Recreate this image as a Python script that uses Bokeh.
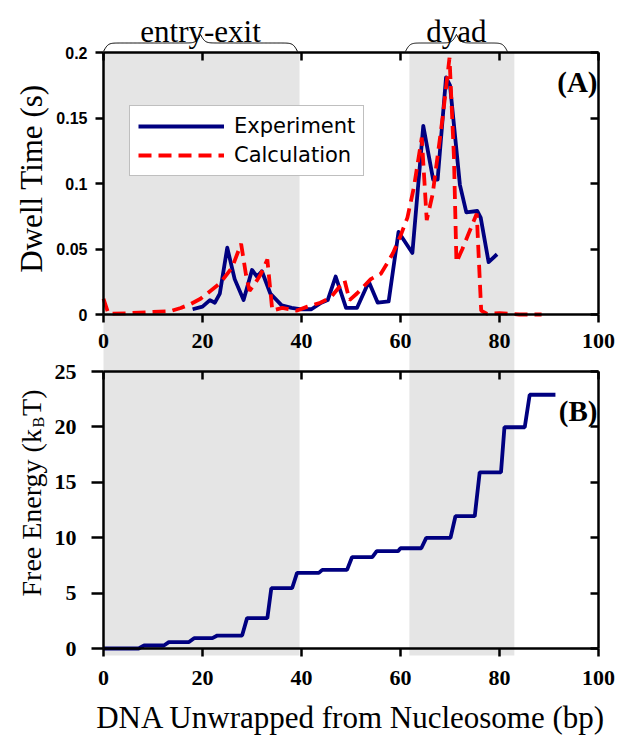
import numpy as np
from bokeh.plotting import figure
from bokeh.models import Range1d, LinearAxis, FixedTicker, Legend, LegendItem, Label
from bokeh.core.properties import value
from bokeh.embed import file_html
from bokeh.resources import INLINE

# ---------------- data ----------------
exp_bp = [18, 20, 21.5, 22.5, 23.5, 25, 26.5, 28.3, 30, 31, 32, 33.7, 36, 38, 40,
          42, 44, 45.3, 46.9, 49, 51.2, 53.6, 55.4, 57.6, 59.6, 62.4, 64.6, 66.6,
          67.5, 69.2, 70.0, 72.0, 73.3, 75.5, 76.2, 77.8, 79.5]
exp_dwell = [0.004, 0.006, 0.011, 0.009, 0.016, 0.051, 0.027, 0.011, 0.034, 0.029,
             0.033, 0.016, 0.007, 0.005, 0.004, 0.004, 0.009, 0.011, 0.029, 0.005,
             0.005, 0.025, 0.009, 0.010, 0.063, 0.047, 0.144, 0.103, 0.103, 0.181,
             0.175, 0.099, 0.078, 0.079, 0.074, 0.040, 0.046]

calc_bp = [0, 1, 5, 10, 13.5, 15.6, 17.6, 19.6, 21.6, 23.6, 26.0, 27.8, 28.8, 29.5,
           30.5, 31.8, 33.1, 34.1, 36.1, 39.1, 41.2, 43.8, 45.9, 48.7, 49.7, 51.2,
           54.0, 56.0, 57.3, 58.5, 60.0, 61.4, 62.7, 64.3, 65.3, 66.5, 68.5, 69.9,
           70.8, 71.3, 72.5, 74.0, 75.4, 76.3, 77.5, 80, 84, 88.5]
calc_dwell = [0.012, 0.0005, 0.001, 0.002, 0.0025, 0.005, 0.008, 0.012, 0.018, 0.024,
              0.036, 0.054, 0.030, 0.018, 0.023, 0.031, 0.042, 0.003, 0.005, 0.003,
              0.006, 0.009, 0.013, 0.026, 0.011, 0.016, 0.027, 0.031, 0.039, 0.047,
              0.060, 0.074, 0.097, 0.135, 0.072, 0.092, 0.150, 0.196, 0.120, 0.040,
              0.050, 0.064, 0.077, 0.003, 0.0005, 0.001, 0.0, 0.0]

fe_bp = [0, 7.1, 8.2, 12.2, 13.2, 17.2, 18.3, 22.0, 23.0, 28.0, 29.0, 33.1, 33.9,
         38.1, 39.1, 43.5, 44.2, 49.2, 50.2, 54.3, 55.2, 59.5, 60.0, 64.2, 65.2,
         70.1, 71.1, 75.0, 76.0, 80.3, 81.0, 85.1, 86.1, 91.3]
fe_kT = [0, 0, 0.27, 0.27, 0.57, 0.57, 0.93, 0.93, 1.17, 1.17, 2.74, 2.74, 5.44,
         5.44, 6.83, 6.83, 7.1, 7.1, 8.24, 8.24, 8.78, 8.78, 9.05, 9.05, 9.99, 9.99,
         11.94, 11.94, 15.9, 15.9, 19.97, 19.97, 22.9, 22.9]

region_names = ["entry-exit", "dyad"]
shade_start = [0.0, 61.8]
shade_end = [39.6, 83.0]
brace_start = [0.0, 61.0]
brace_end = [39.2, 81.6]

x_ticks = [0, 20, 40, 60, 80, 100]
x_tick_labels = ["0", "20", "40", "60", "80", "100"]
a_ticks = [0, 0.05, 0.1, 0.15, 0.2]
a_tick_labels = ["0", "0.05", "0.1", "0.15", "0.2"]
b_ticks = [0, 5, 10, 15, 20, 25]
b_tick_labels = ["0", "5", "10", "15", "20", "25"]

# ---------------- layout ----------------
W, H = 619, 736
L, R = 103, 598          # px columns of bp = 0 and bp = 100
SB = 655                 # px row where the shading stops
A0, A1 = 314, 52         # px rows of 0 and 0.2 in panel A
B0, B1 = 648, 371        # px rows of 0 and 25 in panel B
A_MAX, B_MAX = 0.2, 25
sa = (A0 - A1) / A_MAX
sb = (B0 - B1) / B_MAX
sx = (R - L) / 100.0
# the plotting frame covers the whole canvas so nothing gets clipped
x_range = Range1d(-L / sx, 100 + (W - R) / sx)
a_range = Range1d(-(H - A0) / sa, A_MAX + A1 / sa)
b_range = Range1d(-(H - B0) / sb, B_MAX + B1 / sb)


def px_x(px):
    return (px - L) / sx


def px_a(py):
    return (A0 - py) / sa


def px_b(py):
    return (B0 - py) / sb


p = figure(width=W, height=H, x_range=x_range, y_range=b_range,
           x_axis_location=None, y_axis_location=None,
           min_border=0, min_border_left=0, min_border_right=0, min_border_top=0,
           min_border_bottom=0, output_backend="svg", toolbar_location=None,
           outline_line_color=None, background_fill_color="white",
           border_fill_color="white")
p.extra_y_ranges = {"A": a_range}
p.grid.visible = False

SERIF = "Liberation Serif"
BLUE = "#000080"
RED = "#ff0000"
LW = 3.8

# shaded regions (continuous through both panels)
p.quad(left=shade_start, right=shade_end, bottom=px_a(SB), top=A_MAX,
       y_range_name="A", fill_color="#e5e5e5", line_color=None, level="underlay")

# curves
r_exp = p.line(exp_bp, exp_dwell, y_range_name="A", line_color=BLUE, line_width=LW,
               line_join="round")
r_calc = p.line(calc_bp, calc_dwell, y_range_name="A", line_color=RED, line_width=LW,
                line_dash="13 7")
p.line(fe_bp, fe_kT, line_color=BLUE, line_width=LW)


# axes
def add_axis(side, loc, ticks, labels=None, rng=None, bounds=None, inward=False,
             font=SERIF, size="22px", standoff=5, tick_len=8, axis_label=None,
             label_standoff=6):
    kw = dict(fixed_location=loc, ticker=FixedTicker(ticks=ticks),
              axis_line_width=2.5, axis_line_color="black",
              major_tick_line_width=2.5, major_tick_line_color="black",
              minor_tick_line_color=None,
              major_tick_in=tick_len if inward else 0,
              major_tick_out=0 if inward else tick_len)
    if rng is not None:
        kw["y_range_name"] = rng
    kw["bounds"] = bounds if bounds is not None else (0, 100)
    ax = LinearAxis(**kw)
    if labels is None:
        ax.major_label_overrides = {t: "" for t in ticks}
    else:
        ax.major_label_overrides = dict(zip(ticks, labels))
        ax.major_label_text_font = font
        ax.major_label_text_font_style = "bold"
        ax.major_label_text_font_size = size
        ax.major_label_text_color = "black"
        ax.major_label_standoff = standoff
    if axis_label is not None:
        ax.axis_label = axis_label
        ax.axis_label_text_font = SERIF
        ax.axis_label_text_font_style = "normal"
        ax.axis_label_text_font_size = "31px"
        ax.axis_label_text_color = "black"
        ax.axis_label_standoff = label_standoff
    p.add_layout(ax, side)
    return ax


# panel A
add_axis("below", 0, x_ticks, x_tick_labels, rng="A", standoff=11)
add_axis("above", A_MAX, x_ticks, None, rng="A", inward=True)
add_axis("left", 0, a_ticks, a_tick_labels, rng="A", bounds=(0, A_MAX),
         font="Liberation Sans", size="16px", standoff=8)
add_axis("right", 100, a_ticks, None, rng="A", bounds=(0, A_MAX), inward=True)
# panel B
add_axis("below", 0, x_ticks, x_tick_labels, standoff=14,
         axis_label="DNA Unwrapped from Nucleosome (bp)", label_standoff=12)
add_axis("above", B_MAX, x_ticks, None, inward=True)
add_axis("left", 0, b_ticks, b_tick_labels, bounds=(0, B_MAX), standoff=15,
         tick_len=12)
add_axis("right", 100, b_ticks, None, bounds=(0, B_MAX), inward=True)


# curly braces above panel A
def brace(x0, x1, n=241, beta=0.45, h=17.0, base=A1 - 1):
    p0, p1 = L + x0 * sx, L + x1 * sx
    t = np.linspace(p0, p1, n)
    half = t[: n // 2 + 1]
    yh = (1 / (1 + np.exp(-beta * (half - half[0])))
          + 1 / (1 + np.exp(-beta * (half - half[-1]))))
    y = np.concatenate([yh, yh[-2::-1]])
    ypx = base - (y - 0.5) * h
    return list(px_x(t)), list(px_a(ypx))


bxs, bys = [], []
for s, e in zip(brace_start, brace_end):
    xs, ys = brace(s, e)
    bxs.append(xs)
    bys.append(ys)
p.multi_line(bxs, bys, y_range_name="A", line_color="black", line_width=1)
p.text(x=[(s + e) / 2 for s, e in zip(brace_start, brace_end)],
       y=[px_a(31)] * len(region_names), text=region_names, y_range_name="A",
       text_font=value(SERIF), text_font_size="31px", text_align="center",
       text_baseline="alphabetic", text_color="black")

# panel tags
p.add_layout(Label(x=px_x(597), y=px_a(81), y_range_name="A", text="(A)",
                   text_font=SERIF, text_font_style="bold", text_font_size="29px",
                   text_align="right", text_baseline="middle", text_color="black"))
p.add_layout(Label(x=px_x(597), y=px_b(410), text="(B)",
                   text_font=SERIF, text_font_style="bold", text_font_size="29px",
                   text_align="right", text_baseline="middle", text_color="black"))

# y-axis titles
p.add_layout(Label(x=px_x(31), y=px_a(178), y_range_name="A", text="Dwell Time (s)",
                   angle=np.pi / 2, text_font=SERIF, text_font_size="31px",
                   text_align="center", text_baseline="middle", text_color="black"))
F = 28
w1 = 5.998 * F
y_start = 596
p.add_layout(Label(x=px_x(31), y=px_b(y_start), text="Free Energy (k",
                   angle=np.pi / 2, text_font=SERIF, text_font_size=f"{F}px",
                   text_align="left", text_baseline="middle", text_color="black"))
p.add_layout(Label(x=px_x(38), y=px_b(y_start - w1 - 1), text="B",
                   angle=np.pi / 2, text_font=SERIF, text_font_size="16px",
                   text_align="left", text_baseline="middle", text_color="black"))
p.add_layout(Label(x=px_x(31), y=px_b(y_start - w1 - 1 - 0.667 * 16 - 1), text="T)",
                   angle=np.pi / 2, text_font=SERIF, text_font_size=f"{F}px",
                   text_align="left", text_baseline="middle", text_color="black"))

# legend
legend = Legend(items=[LegendItem(label="Experiment", renderers=[r_exp]),
                       LegendItem(label="Calculation", renderers=[r_calc])],
                location=(129, H - 176), orientation="vertical",
                border_line_color="#808080", border_line_width=1,
                background_fill_color="white", background_fill_alpha=1.0,
                padding=8, spacing=5, margin=0, glyph_width=86, glyph_height=22,
                label_height=22, label_standoff=10,
                label_text_font="DejaVu Sans", label_text_font_size="21px",
                label_text_color="black")
p.add_layout(legend)

open("out.html", "w").write(file_html(p, INLINE))
